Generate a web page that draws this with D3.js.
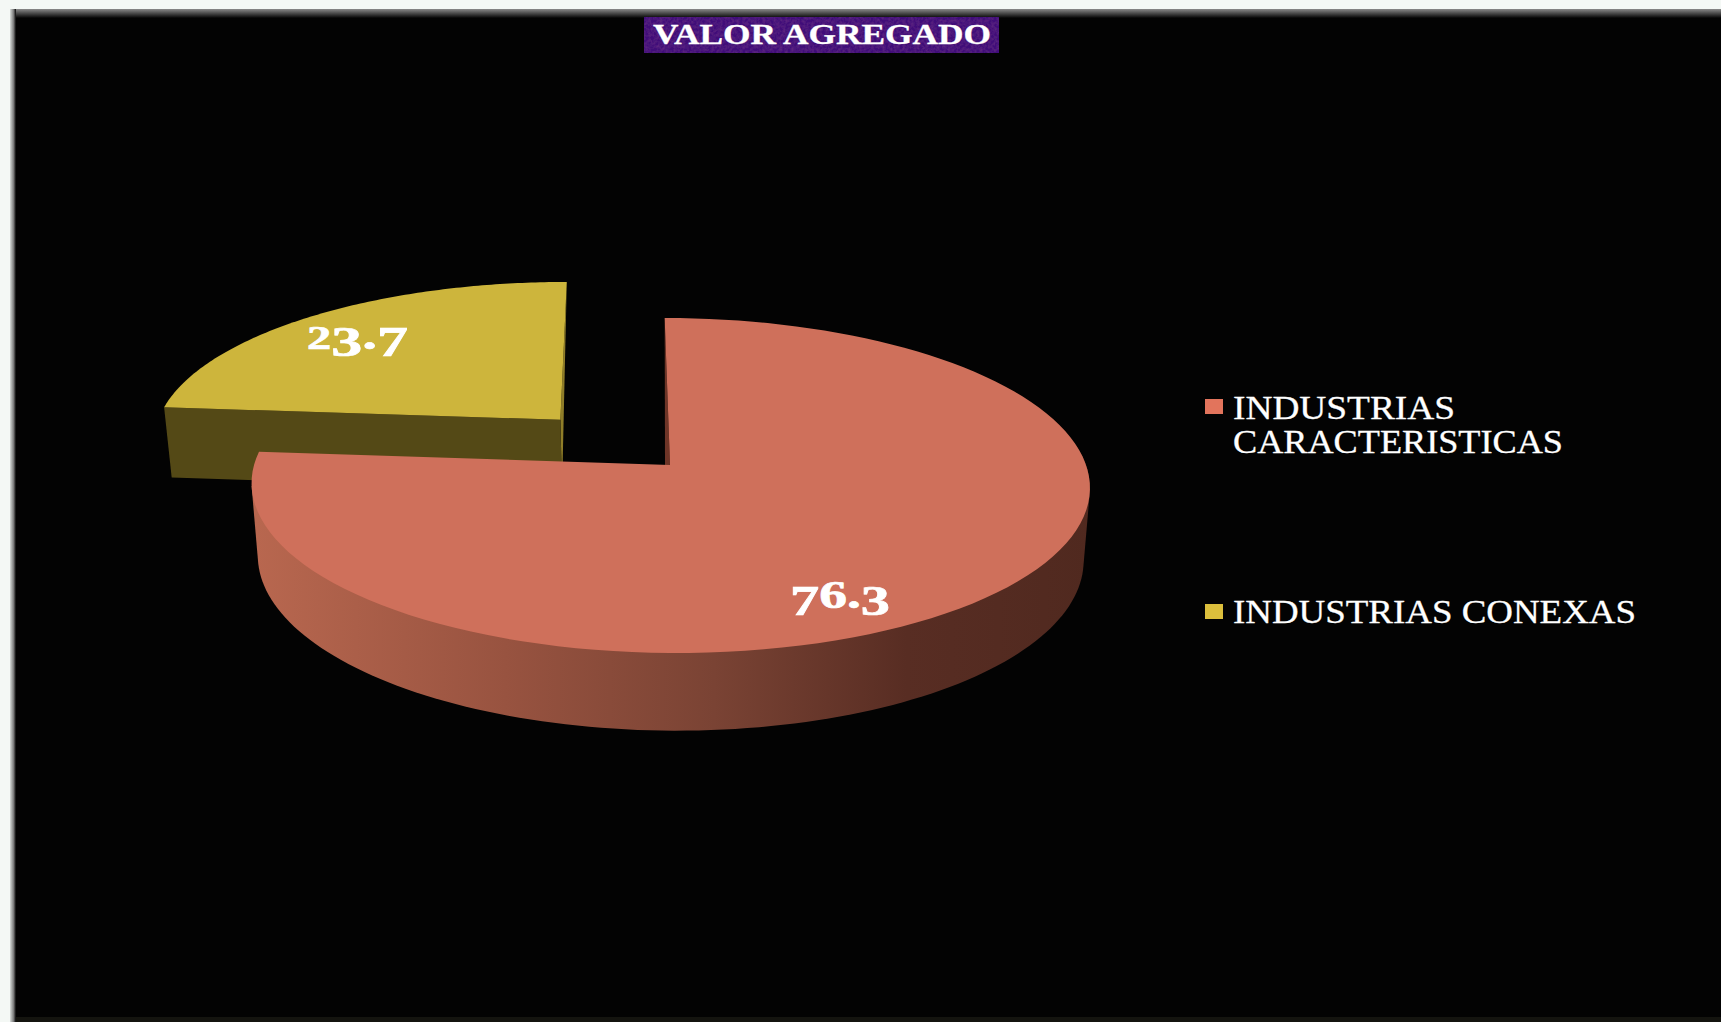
<!DOCTYPE html>
<html>
<head>
<meta charset="utf-8">
<script src="https://cdn.jsdelivr.net/npm/d3@7"></script>
<style>
  html, body { margin: 0; padding: 0; background: #f4f8f5; overflow: hidden; }
  text { font-family: "Liberation Serif", serif; }
</style>
</head>
<body>
<div id="chart"></div>
<script>
"use strict";

var chartTitle = "VALOR AGREGADO";
var categories = ["INDUSTRIAS CARACTERISTICAS", "INDUSTRIAS CONEXAS"];
var values = [76.3, 23.7];
var valueLabels = ["76.3", "23.7"];

var width = 1721, height = 1022;

var svg = d3.select("#chart").append("svg")
  .attr("width", width).attr("height", height)
  .style("display", "block");

var defs = svg.append("defs");

var topEdge = defs.append("linearGradient").attr("id", "topEdge")
  .attr("x1", 0).attr("x2", 0).attr("y1", 0).attr("y2", 1);
topEdge.append("stop").attr("offset", 0).attr("stop-color", "#8a8a8a");
topEdge.append("stop").attr("offset", 1).attr("stop-color", "#040404");

var leftEdge = defs.append("linearGradient").attr("id", "leftEdge");
leftEdge.append("stop").attr("offset", 0).attr("stop-color", "#d8dcda");
leftEdge.append("stop").attr("offset", 0.6).attr("stop-color", "#7a7a7a");
leftEdge.append("stop").attr("offset", 1).attr("stop-color", "#040404");

// red side goes light to dark from left to right
var wallGrad = defs.append("linearGradient").attr("id", "wallGrad")
  .attr("gradientUnits", "userSpaceOnUse")
  .attr("x1", 255).attr("x2", 1090).attr("y1", 0).attr("y2", 0);
[[0, "#b8674f"], [0.3, "#985340"], [0.55, "#7a4334"], [0.78, "#582d23"], [1, "#50291f"]]
  .forEach(function(s) {
    wallGrad.append("stop").attr("offset", s[0]).attr("stop-color", s[1]);
  });

// mottled purple behind the title
var mottle = defs.append("filter").attr("id", "mottle")
  .attr("x", 0).attr("y", 0).attr("width", 1).attr("height", 1);
mottle.append("feTurbulence").attr("type", "fractalNoise")
  .attr("baseFrequency", 0.35).attr("numOctaves", 2).attr("seed", 4).attr("result", "n");
mottle.append("feColorMatrix").attr("in", "n").attr("type", "matrix")
  .attr("values", "0 0 0 0 0.12  0 0 0 0 0.02  0 0 0 0 0.22  1.6 0 0 0 -0.55").attr("result", "m");
mottle.append("feMerge").selectAll("feMergeNode")
  .data(["SourceGraphic", "m"]).enter().append("feMergeNode").attr("in", function(d) { return d; });

// == FRAME ==
svg.append("rect").attr("x", 14).attr("y", 16).attr("width", width - 14).attr("height", height - 16).attr("fill", "#030303");
svg.append("rect").attr("x", 10).attr("y", 9).attr("width", width - 10).attr("height", 9).attr("fill", "url(#topEdge)");
svg.append("rect").attr("x", 10).attr("y", 9).attr("width", 6).attr("height", height - 9).attr("fill", "url(#leftEdge)");
svg.append("rect").attr("x", 16).attr("y", height - 5).attr("width", width - 16).attr("height", 5).attr("fill", "#14140f");

// == PIE GEOMETRY ==
// the pie is a flat disk seen in perspective, so the near edge looks bigger than the far edge
var cx = 670, cy = 465;
var rx = 416, ry = 165, persp = 0.1224, shear = 6;
var depth = 72, baseX = 0.985, baseY = 1.03;
var explode = 0.386;

var pie = d3.pie().sort(null).value(function(d) { return d; });
var arcs = pie(values);

var line = d3.line();

function project(u, v) {
  var w = 1 - persp * v;
  return [cx + (rx * u + shear * v) / w, cy + ry * v / w];
}
function toBase(p) {
  return [cx + (p[0] - cx) * baseX, cy + depth + (p[1] - cy) * baseY];
}
function rimPoint(a, off) {
  return project(Math.sin(a) + off[0], -Math.cos(a) + off[1]);
}
function rim(a0, a1, off) {
  return d3.range(0, 121).map(function(i) {
    return rimPoint(a0 + (a1 - a0) * i / 120, off);
  });
}

var redArc = arcs[0], yellowArc = arcs[1];
var mid = (yellowArc.startAngle + yellowArc.endAngle) / 2;
var yOff = [Math.sin(mid) * explode - 0.007, -Math.cos(mid) * explode];
var rOff = [0, 0];

var pieG = svg.append("g");

// yellow slice, sits behind the red one
var yRim = rim(yellowArc.startAngle, yellowArc.endAngle, yOff);
var yApex = project(yOff[0], yOff[1]);
pieG.append("path")
  .attr("d", line([yRim[120], yApex, toBase(yApex)]) + "Z")
  .attr("fill", "#8f7d28");
pieG.append("path")
  .attr("d", line([yRim[0], yApex, toBase(yApex), toBase(yRim[0])]) + "Z")
  .attr("fill", "#544916");
pieG.append("path")
  .attr("d", line(yRim.concat([yApex])) + "Z")
  .attr("fill", "#cdb53c");

// red slice
var rRim = rim(redArc.startAngle, redArc.endAngle, rOff);
var rApex = project(0, 0);
// hull so the side also fills the straight bit between top and base at both ends
var rFront = rim(Math.PI * 0.46, Math.PI * 1.46, rOff);
var rHull = d3.polygonHull(rFront.concat(rFront.map(toBase)));
pieG.append("path")
  .attr("d", line(rHull) + "Z")
  .attr("fill", "url(#wallGrad)");
pieG.append("path")
  .attr("d", line([rRim[0], rApex, [rApex[0] - 5, rApex[1]]]) + "Z")
  .attr("fill", "#6e3527");
pieG.append("path")
  .attr("d", line(rRim.concat([rApex])) + "Z")
  .attr("fill", "#cf705b");

// == VALUE LABELS ==
// old style figures: some digits drop below the baseline, the 2 is x-height
var digitStyle = {
  "2": { size: 0.82, dy: 0 }, "3": { size: 1.05, dy: 0.18 }, "7": { size: 1.05, dy: 0.18 },
  "6": { size: 1, dy: 0 }, ".": { size: 1, dy: 0 }
};
var labelPos = [
  { x: 790, y: 608, len: 100 },
  { x: 307, y: 349, len: 101 }
];
valueLabels.forEach(function(label, i) {
  var t = svg.append("text")
    .attr("x", labelPos[i].x).attr("y", labelPos[i].y)
    .attr("fill", "#fff").attr("stroke", "#fff").attr("stroke-width", 0.7)
    .attr("font-weight", "bold").attr("font-size", 40);
  var prev = 0;
  label.split("").forEach(function(ch) {
    var st = digitStyle[ch];
    var drop = st.dy * 40;
    t.append("tspan").attr("dy", drop - prev).attr("font-size", 40 * st.size).text(ch);
    prev = drop;
  });
  t.attr("textLength", labelPos[i].len).attr("lengthAdjust", "spacingAndGlyphs");
});

// == TITLE ==
svg.append("rect").attr("x", 644).attr("y", 17).attr("width", 355).attr("height", 36)
  .attr("fill", "#3f1079").attr("filter", "url(#mottle)");
svg.append("text").attr("x", 653).attr("y", 44)
  .attr("fill", "#fff").attr("stroke", "#fff").attr("stroke-width", 0.3)
  .attr("font-weight", "bold").attr("font-size", 29)
  .attr("textLength", 338).attr("lengthAdjust", "spacingAndGlyphs")
  .text(chartTitle);

// == LEGEND ==
var legendColors = ["#e2745c", "#dcbf3c"];
var legendY = [399, 604];
var legendLines = [
  [{ text: "INDUSTRIAS", y: 419, len: 222 }, { text: "CARACTERISTICAS", y: 453, len: 330 }],
  [{ text: categories[1], y: 623, len: 403 }]
];
categories.forEach(function(c, i) {
  svg.append("rect").attr("x", 1205).attr("y", legendY[i]).attr("width", 18).attr("height", 15)
    .attr("fill", legendColors[i]);
  legendLines[i].forEach(function(l) {
    svg.append("text").attr("x", 1233).attr("y", l.y)
      .attr("fill", "#fff").attr("stroke", "#fff").attr("stroke-width", 0.3).attr("font-size", 34)
      .attr("textLength", l.len).attr("lengthAdjust", "spacingAndGlyphs")
      .text(l.text);
  });
});
</script>
</body>
</html>
